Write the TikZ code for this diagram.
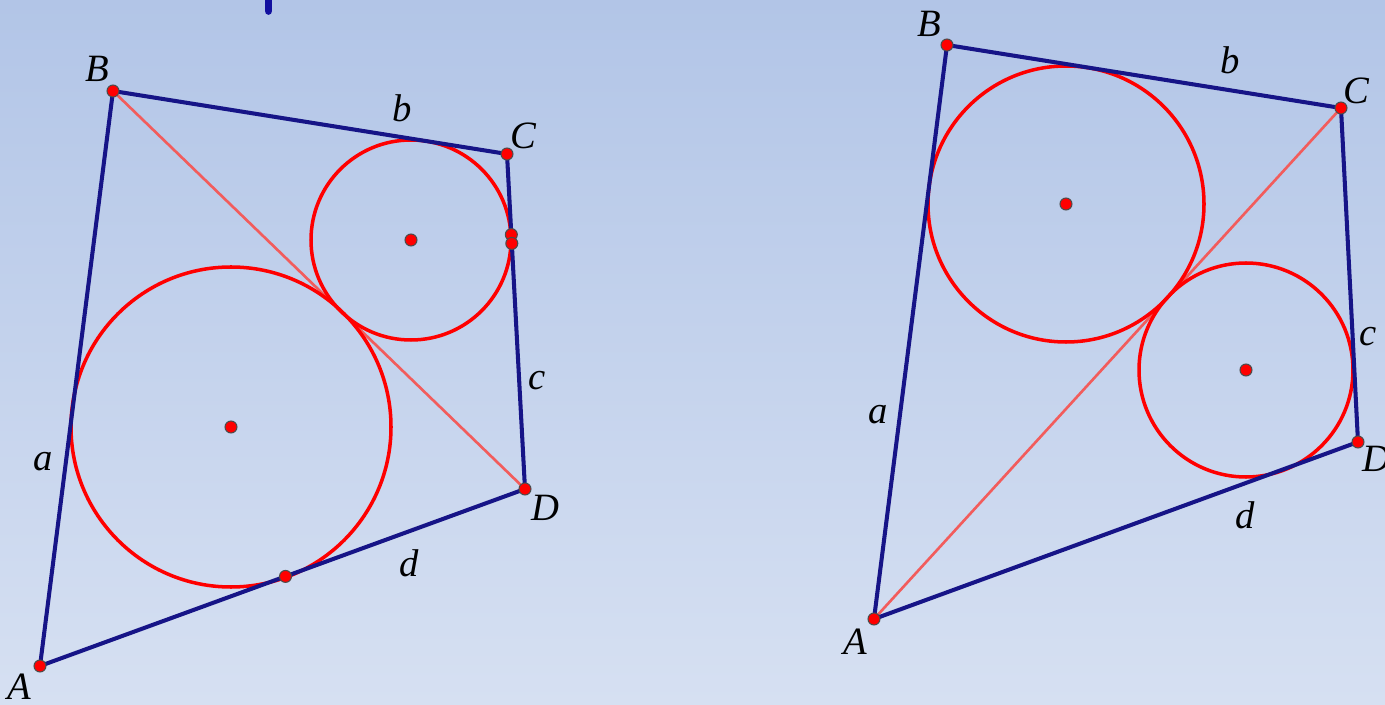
\documentclass[tikz,border=0pt]{standalone}
\usepackage{fontspec}
\setmainfont{Liberation Serif}
\usepackage{tikz}
\usetikzlibrary{calc, positioning}
\definecolor{bgtop}{RGB}{178,197,231}
\definecolor{bgbot}{RGB}{214,224,242}
\definecolor{sidecol}{RGB}{22,20,135}
\definecolor{diagcol}{RGB}{242,92,92}
\tikzset{
  side/.style={line width=1.15pt, color=sidecol, line cap=round},
  incircle/.style={line width=1pt, color=red},
  diag/.style={line width=0.75pt, color=diagcol},
  pt/.style={circle, fill=red, draw=black!70, line width=0.3pt, inner sep=0pt, minimum size=1.2mm},
  lbl/.style={font=\fontsize{11}{13}\selectfont\itshape, inner sep=0pt}
}

\begin{document}
\begin{tikzpicture}
  \useasboundingbox (0,0) rectangle (13.85,7.04);
  \shade[top color=bgtop, bottom color=bgbot] (0,0) rectangle (13.85,7.04);
  \draw[line width=2.2pt, line cap=round, color=sidecol!80!blue] (2.685,7.10) -- (2.685,6.93);

  % left quadrilateral
  \coordinate (A1) at (0.40,0.38);
  \coordinate (B1) at (1.13,6.13);
  \coordinate (C1) at (5.07,5.50);
  \coordinate (D1) at (5.25,2.15);
  \coordinate (O1) at (2.31,2.77);
  \coordinate (Q1) at (4.11,4.64);
  \draw[diag] (B1) -- (D1);
  \draw[incircle] (O1) circle[radius=1.60];
  \draw[incircle] (Q1) circle[radius=1.00];
  \draw[side] (A1) -- (B1) -- (C1) -- (D1) -- cycle;
  \foreach \p in {A1,B1,C1,D1,O1,Q1} \node[pt] (p\p) at (\p) {};
  \node[pt] (T1) at ($(A1)!(O1)!(D1)$) {};
  \node[pt] (T2) at ($(C1)!(Q1)!(D1)$) {};
  \node[pt] (T3) at ($(C1)!0.267!(D1)$) {};

  \node[lbl] (labA1) at (0.19,0.17) {A};
  \node[lbl] (labB1) at (0.97,6.35) {B};
  \node[lbl] (labC1) at (5.23,5.68) {C};
  \node[lbl] (labD1) at (5.45,1.96) {D};
  \node[lbl] (laba1) at (0.43,2.42) {a};
  \node[lbl] (labb1) at (4.02,5.96) {b};
  \node[lbl] (labc1) at (5.37,3.23) {c};
  \node[lbl] (labd1) at (4.09,1.41) {d};

  % right quadrilateral
  \coordinate (A2) at (8.74,0.85);
  \coordinate (B2) at (9.47,6.59);
  \coordinate (C2) at (13.41,5.96);
  \coordinate (D2) at (13.58,2.62);
  \coordinate (O2) at (10.66,5.00);
  \coordinate (Q2) at (12.46,3.34);
  \draw[diag] (A2) -- (C2);
  \draw[incircle] (O2) circle[radius=1.38];
  \draw[incircle] (Q2) circle[radius=1.07];
  \draw[side] (A2) -- (B2) -- (C2) -- (D2) -- cycle;
  \foreach \p in {A2,B2,C2,D2,O2,Q2} \node[pt] (p\p) at (\p) {};

  \node[lbl] (labA2) at (8.55,0.62) {A};
  \node[lbl] (labB2) at (9.29,6.80) {B};
  \node[lbl] (labC2) at (13.56,6.13) {C};
  \node[lbl] (labD2) at (13.76,2.45) {D};
  \node[lbl] (laba2) at (8.78,2.89) {a};
  \node[lbl] (labb2) at (12.30,6.44) {b};
  \node[lbl] (labc2) at (13.68,3.67) {c};
  \node[lbl] (labd2) at (12.45,1.89) {d};
\end{tikzpicture}
\end{document}
